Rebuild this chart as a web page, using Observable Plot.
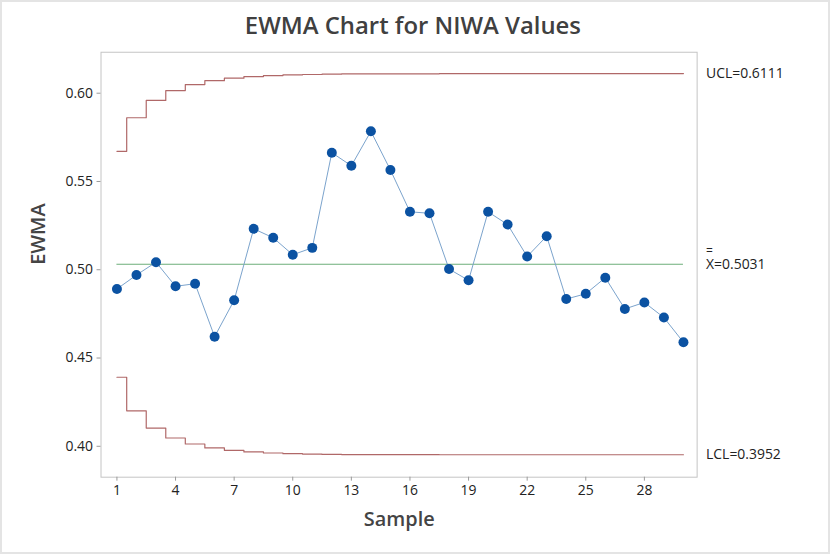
<!DOCTYPE html>
<html>
<head>
<meta charset="utf-8">
<script src="https://cdn.jsdelivr.net/npm/d3@7"></script>
<script src="https://cdn.jsdelivr.net/npm/@observablehq/plot@0.6"></script>
<style>
  html, body { margin: 0; padding: 0; background: #fff; }
  #chart { width: 830px; height: 554px; box-sizing: border-box; border: 2px solid #e4e4e4; position: relative; overflow: hidden; }
  #chart svg { position: absolute; left: -2px; top: -2px; }
</style>
</head>
<body>
<div id="chart"></div>
<script>
const samples = [1,2,3,4,5,6,7,8,9,10,11,12,13,14,15,16,17,18,19,20,21,22,23,24,25,26,27,28,29,30];
const ewma = [0.4891,0.4970,0.5043,0.4906,0.4921,0.4621,0.4827,0.5232,0.5181,0.5085,
              0.5124,0.5663,0.5589,0.5784,0.5565,0.5328,0.5320,0.5004,0.4940,0.5328,
              0.5256,0.5075,0.5190,0.4834,0.4864,0.4955,0.4778,0.4815,0.4729,0.4589];
const ucl = [0.5671,0.5861,0.5959,0.6015,0.6049,0.6071,0.6085,0.6094,0.6100,0.6104,
             0.6106,0.6108,0.6109,0.6109,0.6110,0.6110,0.6110,0.6111,0.6111,0.6111,
             0.6111,0.6111,0.6111,0.6111,0.6111,0.6111,0.6111,0.6111,0.6111,0.6111];
const lcl = [0.4391,0.4201,0.4103,0.4047,0.4013,0.3991,0.3977,0.3968,0.3962,0.3958,
             0.3956,0.3954,0.3953,0.3953,0.3953,0.3953,0.3953,0.3952,0.3952,0.3952,
             0.3952,0.3952,0.3952,0.3952,0.3952,0.3952,0.3952,0.3952,0.3952,0.3952];
const center = 0.5031;
const xTicks = [1,4,7,10,13,16,19,22,25,28];
const yTicks = [0.40,0.45,0.50,0.55,0.60];
const limitLabels = [
  {value: 0.6111, label: "UCL=0.6111"},
  {value: 0.5031, label: "X=0.5031"},
  {value: 0.3952, label: "LCL=0.3952"}
];

const rows = samples.map((s, i) => ({sample: s, ewma: ewma[i], ucl: ucl[i], lcl: lcl[i]}));
const font = "'Open Sans', 'Noto Sans', sans-serif";

const chart = Plot.plot({
  width: 830,
  height: 554,
  marginLeft: 101,
  marginRight: 130,
  marginTop: 52,
  marginBottom: 75,
  style: {fontFamily: font, background: "transparent", overflow: "visible"},
  x: {domain: [0.185, 30.7]},
  y: {domain: [0.3825, 0.6232]},
  marks: [
    Plot.frame({stroke: "#c4c4c4", strokeWidth: 1}),
    Plot.axisX({ticks: xTicks, tickSize: 4, tickPadding: 4, stroke: "#999", fill: "#222", fontSize: 14,
                style: "letter-spacing:0.6px", label: null}),
    Plot.axisY({ticks: yTicks, tickFormat: d3.format(".2f"), tickSize: 4, tickPadding: 4, stroke: "#999", fill: "#222",
                fontSize: 14, style: "letter-spacing:0.6px", label: null}),
    Plot.text(["Sample"], {frameAnchor: "bottom", x: [15.45], dy: 43, lineAnchor: "middle",
                           fill: "#444", fontSize: 20, fontWeight: 600, style: "letter-spacing:0.8px"}),
    Plot.text(["EWMA"], {frameAnchor: "left", y: [0.5028], dx: -63, rotate: -90, lineAnchor: "middle",
                         fill: "#444", fontSize: 20, fontWeight: 600, style: "letter-spacing:0.8px"}),
    Plot.ruleY([center], {x1: 1, x2: 30, stroke: "#6cae7a", strokeWidth: 1.2}),
    Plot.line(rows, {x: "sample", y: "ucl", curve: "step", stroke: "#b06868", strokeWidth: 1.2}),
    Plot.line(rows, {x: "sample", y: "lcl", curve: "step", stroke: "#b06868", strokeWidth: 1.2}),
    Plot.line(rows, {x: "sample", y: "ewma", stroke: "#7aa2cc", strokeWidth: 1}),
    Plot.dot(rows, {x: "sample", y: "ewma", r: 5, fill: "#0b52a2", stroke: "none"}),
    Plot.text(limitLabels, {y: "value", text: "label", frameAnchor: "right", dx: 9, textAnchor: "start",
                            lineAnchor: "middle", fill: "#222", fontSize: 14, style: "letter-spacing:0.6px"}),
    Plot.text(["="], {y: [center], frameAnchor: "right", dx: 9, dy: -9, textAnchor: "start",
                      lineAnchor: "bottom", fill: "#222", fontSize: 12}),
    Plot.text(["EWMA Chart for NIWA Values"], {frameAnchor: "top", x: [16.15], dy: -26, lineAnchor: "middle",
                      fill: "#404040", fontSize: 24, fontWeight: 600, style: "letter-spacing:1.6px"})
  ]
});

document.getElementById("chart").appendChild(chart);
</script>
</body>
</html>
